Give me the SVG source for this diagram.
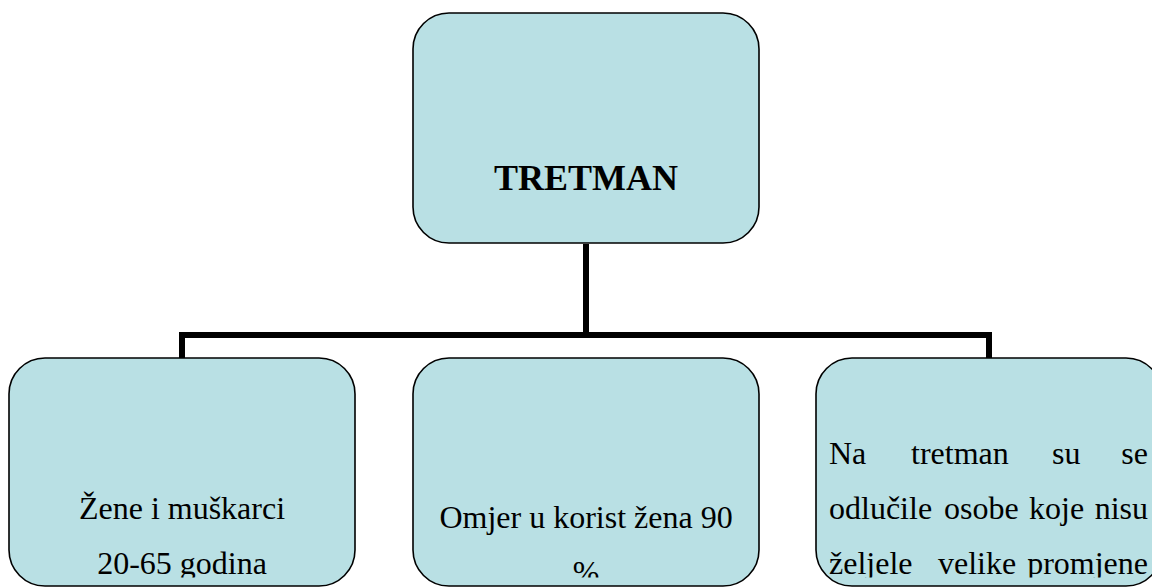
<svg xmlns="http://www.w3.org/2000/svg" width="1152" height="588" viewBox="0 0 1152 588">
<style>
.box{fill:#b9e0e4;stroke:#000;stroke-width:1.6}
.t{font-family:"Liberation Serif","Times New Roman","DejaVu Serif",serif;font-size:32px;fill:#000}
.title{font-family:"Liberation Serif","Times New Roman","DejaVu Serif",serif;font-size:36px;font-weight:bold;fill:#000}
.conn{fill:none;stroke:#000;stroke-width:6;stroke-linejoin:miter}
</style>
<defs>
<clipPath id="clip"><rect x="0" y="0" width="1152" height="577.5"/></clipPath>
</defs>
<rect width="1152" height="588" fill="#fff"/>
<g id="connectors">
<path class="conn" d="M586 244 V335"/>
<path class="conn" d="M182 359 V335 H989 V359"/>
</g>
<g id="node-tretman">
<rect class="box" x="413" y="13" width="346" height="230" rx="36" ry="36"/>
<text class="title" x="586" y="190" text-anchor="middle">TRETMAN</text>
</g>
<g id="node-zene">
<rect class="box" x="9" y="358" width="346" height="228" rx="36" ry="36"/>
<g clip-path="url(#clip)">
<text class="t" x="182" y="519" text-anchor="middle">Žene i muškarci</text>
<text class="t" x="182" y="574" text-anchor="middle">20-65 godina</text>
</g>
</g>
<g id="node-omjer">
<rect class="box" x="413" y="358" width="346" height="228" rx="36" ry="36"/>
<g clip-path="url(#clip)">
<text class="t" x="586" y="528" text-anchor="middle">Omjer u korist žena 90</text>
<text class="t" x="586" y="583" text-anchor="middle">%</text>
</g>
</g>
<g id="node-tretman-osobe">
<rect class="box" x="816" y="358" width="346" height="228" rx="36" ry="36"/>
<g clip-path="url(#clip)">
<text class="t" x="829" y="464">Na</text>
<text class="t" x="911" y="464">tretman</text>
<text class="t" x="1052" y="464">su</text>
<text class="t" x="1148" y="464" text-anchor="end">se</text>
<text class="t" x="829" y="519">odlučile</text>
<text class="t" x="944" y="519">osobe</text>
<text class="t" x="1029" y="519">koje</text>
<text class="t" x="1148" y="519" text-anchor="end">nisu</text>
<text class="t" x="829" y="574">željele</text>
<text class="t" x="938" y="574">velike</text>
<text class="t" x="1148" y="574" text-anchor="end">promjene</text>
</g>
</g>
</svg>
